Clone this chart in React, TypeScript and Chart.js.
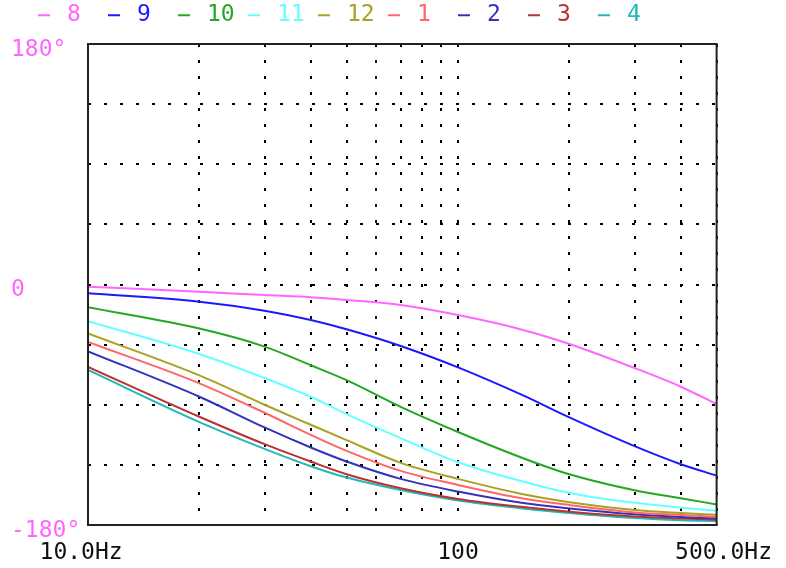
import React, { useEffect, useRef } from "react";
import { Chart, registerables } from "chart.js";

Chart.register(...registerables);

const FREQ = [10, 20, 30, 40, 50, 70, 100, 150, 200, 300, 400, 500];
const X_TICKS = [10, 20, 30, 40, 50, 60, 70, 80, 90, 100, 200, 300, 400, 500];
const X_LABELS: Record<number, string> = { 10: "10.0Hz ", 100: "100", 500: " 500.0Hz" };
const Y_LABELS: Record<number, string> = { 180: "180°", 0: "0", [-180]: "-180°" };

const SERIES_NAMES = ["8 ", "9 ", "10", "11", "12", "1 ", "2 ", "3 ", "4 "];
const SERIES_COLORS = ["#ff66ff", "#1a1aff", "#22a822", "#66ffff", "#aaa022", "#ff6666", "#3333bb", "#bb3030", "#22b8b8"];

const S8 = [-1.6, -5.4, -7.9, -9.5, -11.6, -15.4, -22.9, -34, -44.5, -62.5, -76.5, -89.5];
const S9 = [-6.6, -12.9, -19.6, -26.6, -33.5, -46, -62, -83, -99.5, -121, -134.5, -143];
const S10 = [-17, -33, -46.5, -60.4, -71.6, -91.6, -110.4, -130, -142, -154, -160, -164.6];
const S11 = [-27.4, -52, -70, -84, -97, -115, -133, -147.5, -156, -163.4, -167, -169.4];
const S12 = [-36.6, -68, -90, -105, -116.5, -133.5, -145.5, -157, -163, -168.8, -171, -172.3];
const S1 = [-43, -74, -96, -112.5, -124.5, -139.5, -150, -160.2, -165, -170.6, -172.5, -173.8];
const S2 = [-50, -84, -107, -122, -132.5, -145.5, -155, -163.6, -167.6, -172, -174, -175];
const S3 = [-61.6, -99, -119.5, -132.5, -142, -152.5, -160.5, -166.6, -170, -173.6, -175.2, -176];
const S4 = [-64, -103, -123, -136, -144.5, -153.8, -161.6, -167.6, -171, -174.8, -176.4, -177];

const SERIES = [S8, S9, S10, S11, S12, S1, S2, S3, S4];

const FONT = "'DejaVu Sans Mono', monospace";

const frame = {
  id: "frame",
  afterDraw(chart: any) {
    const { ctx, chartArea: a } = chart;
    ctx.save();
    ctx.strokeStyle = "#222";
    ctx.lineWidth = 2;
    ctx.strokeRect(a.left, a.top, a.right - a.left, a.bottom - a.top);
    ctx.restore();
  },
};

export default function App() {
  const ref = useRef<HTMLCanvasElement>(null);
  useEffect(() => {
    document.body.style.margin = "0";
    const chart = new Chart(ref.current!, {
      type: "line",
      data: {
        datasets: SERIES.map((s, i) => ({
          label: SERIES_NAMES[i],
          data: s.map((y, j) => ({ x: FREQ[j], y })),
          borderColor: SERIES_COLORS[i],
          backgroundColor: SERIES_COLORS[i],
          borderWidth: 2,
          pointRadius: 0,
          cubicInterpolationMode: "monotone" as const,
          fill: false,
        })),
      },
      options: {
        animation: false,
        responsive: false,
        maintainAspectRatio: false,
        layout: { padding: { left: 24.7, right: 66, top: -4, bottom: 0 } },
        plugins: {
          tooltip: { enabled: false },
          legend: {
            display: true,
            position: "top",
            align: "start",
            labels: {
              font: { family: FONT, size: 23 },
              usePointStyle: true,
              boxWidth: 23,
              boxHeight: 8.485,
              padding: 7.8,
              generateLabels(chart: any) {
                return chart.data.datasets.map((d: any, i: number) => ({
                  text: d.label,
                  fillStyle: d.borderColor,
                  strokeStyle: d.borderColor,
                  fontColor: d.borderColor,
                  pointStyle: "line",
                  lineWidth: 2,
                  hidden: false,
                  datasetIndex: i,
                }));
              },
            },
          },
        },
        scales: {
          x: {
            type: "logarithmic",
            min: 10,
            max: 500,
            afterBuildTicks(scale: any) {
              scale.ticks = X_TICKS.map((v) => ({ value: v }));
            },
            afterFit(scale: any) {
              scale.height = 43;
            },
            border: { display: false, dash: [3, 13] },
            grid: {
              color: "#000",
              lineWidth: 2,
              drawTicks: false,
            },
            ticks: {
              autoSkip: false,
              maxRotation: 0,
              padding: 14,
              color: "#111",
              font: { family: FONT, size: 23 },
              callback: (v: any) => X_LABELS[v as number] ?? "",
            },
          },
          xTop: {
            type: "linear",
            position: "top",
            display: true,
            border: { display: false },
            grid: { display: false, drawTicks: false },
            ticks: { display: false },
            afterFit(scale: any) {
              scale.height = 7.2;
            },
          },
          y: {
            min: -180,
            max: 180,
            afterBuildTicks(scale: any) {
              const t = [];
              for (let v = -180; v <= 180; v += 45) t.push({ value: v });
              scale.ticks = t;
            },
            afterFit(scale: any) {
              scale.width = 88 - 24.7;
            },
            border: { display: false, dash: [3, 13] },
            grid: {
              color: "#000",
              lineWidth: 2,
              drawTicks: false,
            },
            ticks: {
              mirror: true,
              crossAlign: "near",
              padding: -77,
              labelOffset: 6,
              color: "#ff66ff",
              font: { family: FONT, size: 23 },
              callback: (v: any) => Y_LABELS[v as number] ?? "",
            },
          },
        },
      },
      plugins: [frame],
    } as any);
    return () => chart.destroy();
  }, []);
  return (
    <div style={{ width: 786, height: 568 }}>
      <canvas ref={ref} width={786} height={568} style={{ display: "block", width: 786, height: 568 }} />
    </div>
  );
}
